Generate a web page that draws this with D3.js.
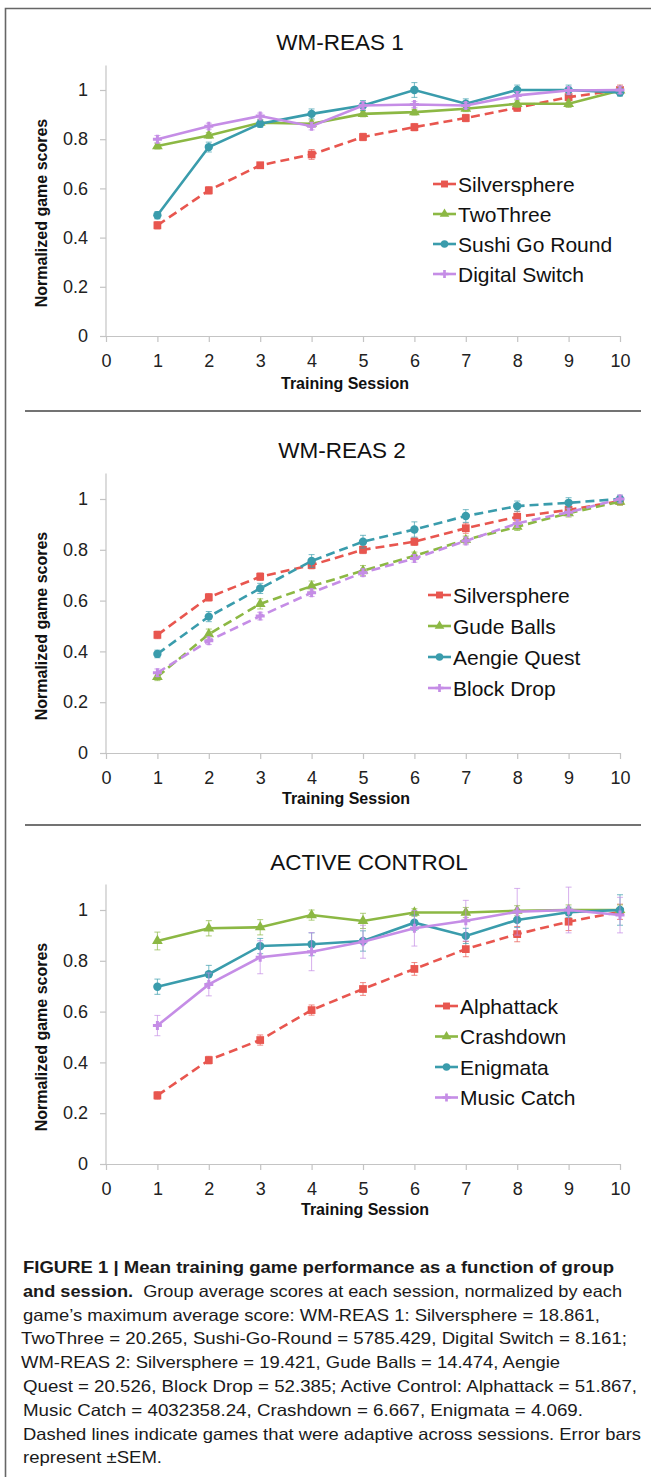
<!DOCTYPE html>
<html>
<head>
	<title></title>
	<script type="text/javascript" src="https://d3js.org/d3.v7.min.js"></script>
	<style>
		body { margin: 0; background: #fff; }
		text { font-family: "Liberation Sans", Arial, sans-serif; }
	</style>
</head>
<body>

<div id='fig'></div>

<script type="text/javascript">

var sessions = [1, 2, 3, 4, 5, 6, 7, 8, 9, 10];
var xTicks = [0, 1, 2, 3, 4, 5, 6, 7, 8, 9, 10];
var yTicks = [0, 0.2, 0.4, 0.6, 0.8, 1];

// WM-REAS 1
var wm1Names = ['Silversphere', 'TwoThree', 'Sushi Go Round', 'Digital Switch'];
var wm1Silversphere = [0.45, 0.592, 0.694, 0.738, 0.809, 0.849, 0.886, 0.928, 0.971, 1.0];
var wm1TwoThree     = [0.772, 0.815, 0.867, 0.863, 0.903, 0.91, 0.924, 0.944, 0.944, 0.998];
var wm1Sushi        = [0.491, 0.768, 0.863, 0.903, 0.937, 1.0, 0.944, 1.0, 1.0, 0.99];
var wm1Digital      = [0.80, 0.853, 0.894, 0.853, 0.937, 0.941, 0.937, 0.978, 0.998, 1.0];
var wm1SilverSem  = [0.015, 0.015, 0.012, 0.02, 0.015, 0.015, 0.015, 0.015, 0.02, 0.02];
var wm1TwoSem     = [0.012, 0.012, 0.012, 0.015, 0.012, 0.012, 0.012, 0.015, 0.015, 0.01];
var wm1SushiSem   = [0.015, 0.02, 0.015, 0.02, 0.02, 0.03, 0.02, 0.02, 0.02, 0.015];
var wm1DigitalSem = [0.015, 0.012, 0.012, 0.015, 0.015, 0.012, 0.012, 0.015, 0.015, 0.015];

// WM-REAS 2
var wm2Names = ['Silversphere', 'Gude Balls', 'Aengie Quest', 'Block Drop'];
var wm2Silversphere = [0.465, 0.613, 0.694, 0.74, 0.80, 0.832, 0.885, 0.93, 0.957, 0.992];
var wm2Gude         = [0.30, 0.468, 0.587, 0.657, 0.718, 0.776, 0.839, 0.891, 0.944, 0.99];
var wm2Aengie       = [0.39, 0.537, 0.648, 0.756, 0.832, 0.88, 0.933, 0.972, 0.985, 1.0];
var wm2Block        = [0.316, 0.442, 0.539, 0.631, 0.71, 0.766, 0.835, 0.904, 0.948, 1.0];
var wm2SilverSem = [0.015, 0.015, 0.015, 0.015, 0.015, 0.015, 0.02, 0.02, 0.015, 0.015];
var wm2GudeSem   = [0.015, 0.02, 0.02, 0.02, 0.02, 0.015, 0.015, 0.015, 0.015, 0.015];
var wm2AengieSem = [0.015, 0.02, 0.02, 0.025, 0.025, 0.03, 0.025, 0.02, 0.02, 0.015];
var wm2BlockSem  = [0.015, 0.015, 0.015, 0.015, 0.015, 0.015, 0.015, 0.015, 0.015, 0.015];

// ACTIVE CONTROL
var acNames = ['Alphattack', 'Crashdown', 'Enigmata', 'Music Catch'];
var acAlphattack = [0.27, 0.409, 0.488, 0.606, 0.689, 0.768, 0.846, 0.905, 0.954, 0.993];
var acCrashdown  = [0.878, 0.928, 0.932, 0.98, 0.957, 0.99, 0.99, 0.997, 1.0, 1.0];
var acEnigmata   = [0.698, 0.747, 0.858, 0.865, 0.878, 0.95, 0.898, 0.961, 0.991, 1.0];
var acMusic      = [0.545, 0.707, 0.814, 0.836, 0.875, 0.928, 0.958, 0.993, 1.0, 0.98];
var acAlphaSem  = [0.015, 0.015, 0.02, 0.02, 0.025, 0.025, 0.03, 0.03, 0.035, 0.03];
var acCrashSem  = [0.035, 0.03, 0.03, 0.02, 0.03, 0.015, 0.02, 0.02, 0.02, 0.02];
var acEnigSem   = [0.03, 0.035, 0.03, 0.045, 0.04, 0.03, 0.03, 0.03, 0.02, 0.06];
var acMusicSem  = [0.04, 0.045, 0.065, 0.075, 0.065, 0.07, 0.08, 0.092, 0.09, 0.07];

var captionLines = [
	[{t: 'FIGURE 1 | Mean training game performance as a function of group', b: true}],
	[{t: 'and session.', b: true}, {t: '  Group average scores at each session, normalized by each', b: false}],
	[{t: 'game\u2019s maximum average score: WM-REAS 1: Silversphere = 18.861,', b: false}],
	[{t: 'TwoThree = 20.265, Sushi-Go-Round = 5785.429, Digital Switch = 8.161;', b: false}],
	[{t: 'WM-REAS 2: Silversphere = 19.421, Gude Balls = 14.474, Aengie', b: false}],
	[{t: 'Quest = 20.526, Block Drop = 52.385; Active Control: Alphattack = 51.867,', b: false}],
	[{t: 'Music Catch = 4032358.24, Crashdown = 6.667, Enigmata = 4.069.', b: false}],
	[{t: 'Dashed lines indicate games that were adaptive across sessions. Error bars', b: false}],
	[{t: 'represent \u00b1SEM.', b: false}]
];

var RED = '#e8564f', GREEN = '#8cb844', TEAL = '#3a9cac', VIOLET = '#c58de6';

var W = 651, H = 1477;

var svg = d3.select('#fig').append('svg')
	.attr('width', W)
	.attr('height', H);

svg.append('rect').attr('width', W).attr('height', H).attr('fill', '#fff');

// frame
svg.append('path')
	.attr('d', 'M5.5,' + H + 'V8.5H' + W)
	.attr('fill', 'none')
	.attr('stroke', '#666')
	.attr('stroke-width', 1.6);

var x = d3.scaleLinear().domain([0, 10]).range([106, 620]);

function drawPanel(p) {
	var y = d3.scaleLinear().domain([0, 1]).range([p.y0, p.y1]);
	var g = svg.append('g');

	g.append('text')
		.attr('x', p.titleX).attr('y', p.titleY)
		.attr('text-anchor', 'middle')
		.style('font-size', '22.5px')
		.attr('fill', '#111')
		.text(p.title);

	var xAxis = d3.axisBottom(x).tickValues(xTicks).tickSize(6).tickSizeOuter(0).tickPadding(12)
		.tickFormat(d3.format('d'));
	var yAxis = d3.axisLeft(y).tickValues(yTicks).tickSize(6).tickSizeOuter(0).tickPadding(12)
		.tickFormat(d3.format(''));

	var ya = g.append('g').attr('transform', 'translate(' + x(0) + ',0)').call(yAxis);
	ya.select('.domain').attr('d', 'M0,' + y(0) + 'V' + y(1.1));
	var xa = g.append('g').attr('transform', 'translate(0,' + y(0) + ')').call(xAxis);

	[ya, xa].forEach(function(a) {
		a.select('.domain').attr('stroke', '#c4c4c4').attr('stroke-width', 1.2);
		a.selectAll('.tick line').attr('stroke', '#c4c4c4').attr('stroke-width', 1.2);
		a.selectAll('.tick text').style('font-size', '18px').attr('fill', '#222')
			.style('font-family', '"Liberation Sans", Arial, sans-serif');
	});

	g.append('text')
		.attr('transform', 'translate(47,' + y(0.5) + ') rotate(-90)')
		.attr('text-anchor', 'middle')
		.style('font-size', '16px').style('font-weight', 'bold')
		.attr('fill', '#111')
		.text('Normalized game scores');

	g.append('text')
		.attr('x', p.xlabX).attr('y', p.xlabY)
		.attr('text-anchor', 'middle')
		.style('font-size', '16px').style('font-weight', 'bold')
		.attr('fill', '#111')
		.text('Training Session');

	var line = d3.line()
		.x(function(d) { return x(d.s); })
		.y(function(d) { return y(d.v); });

	p.series.forEach(function(sr) {
		var pts = sessions.map(function(s, i) { return {s: s, v: sr.values[i], e: sr.sem[i]}; });
		var sg = g.append('g');

		sg.selectAll('.err').data(pts).enter().append('path')
			.attr('d', function(d) {
				var cx = x(d.s), a = y(d.v + d.e), b = y(d.v - d.e);
				return 'M' + cx + ',' + a + 'V' + b + 'M' + (cx - 3) + ',' + a + 'H' + (cx + 3) +
					'M' + (cx - 3) + ',' + b + 'H' + (cx + 3);
			})
			.attr('stroke', sr.color).attr('stroke-opacity', 0.7).attr('stroke-width', 1).attr('fill', 'none');

		sg.append('path').datum(pts)
			.attr('d', line)
			.attr('fill', 'none')
			.attr('stroke', sr.color)
			.attr('stroke-width', 2.6)
			.attr('stroke-dasharray', sr.dashed ? '9,5' : null);

		sg.selectAll('.mk').data(pts).enter().append('path')
			.attr('transform', function(d) { return 'translate(' + x(d.s) + ',' + y(d.v) + ')'; })
			.attr('d', d3.symbol().type(sr.symbol).size(sr.size))
			.attr('fill', sr.color);
	});

	// legend
	p.series.forEach(function(sr, i) {
		var ly = p.legY + i * p.legStep;
		g.append('line')
			.attr('x1', p.legX).attr('x2', p.legX + 23)
			.attr('y1', ly).attr('y2', ly)
			.attr('stroke', sr.color).attr('stroke-width', 2.6);
		g.append('path')
			.attr('transform', 'translate(' + (p.legX + 11.5) + ',' + ly + ')')
			.attr('d', d3.symbol().type(sr.symbol).size(sr.size * 0.8))
			.attr('fill', sr.color);
		g.append('text')
			.attr('x', p.legX + 25).attr('y', ly + 7.5)
			.style('font-size', '21px')
			.attr('fill', '#111')
			.text(p.names[i]);
	});
}

drawPanel({
	title: 'WM-REAS 1', titleX: 340, titleY: 50,
	y0: 336, y1: 90,
	xlabX: 345, xlabY: 389,
	legX: 433, legY: 184, legStep: 30,
	names: wm1Names,
	series: [
		{values: wm1Silversphere, sem: wm1SilverSem, color: RED, symbol: d3.symbolSquare, size: 60, dashed: true},
		{values: wm1TwoThree, sem: wm1TwoSem, color: GREEN, symbol: d3.symbolTriangle, size: 50, dashed: false},
		{values: wm1Sushi, sem: wm1SushiSem, color: TEAL, symbol: d3.symbolCircle, size: 55, dashed: false},
		{values: wm1Digital, sem: wm1DigitalSem, color: VIOLET, symbol: d3.symbolCross, size: 45, dashed: false}
	]
});

drawPanel({
	title: 'WM-REAS 2', titleX: 342, titleY: 458,
	y0: 753, y1: 499,
	xlabX: 346, xlabY: 804,
	legX: 428, legY: 595, legStep: 31,
	names: wm2Names,
	series: [
		{values: wm2Silversphere, sem: wm2SilverSem, color: RED, symbol: d3.symbolSquare, size: 60, dashed: true},
		{values: wm2Gude, sem: wm2GudeSem, color: GREEN, symbol: d3.symbolTriangle, size: 50, dashed: true},
		{values: wm2Aengie, sem: wm2AengieSem, color: TEAL, symbol: d3.symbolCircle, size: 55, dashed: true},
		{values: wm2Block, sem: wm2BlockSem, color: VIOLET, symbol: d3.symbolCross, size: 45, dashed: true}
	]
});

drawPanel({
	title: 'ACTIVE CONTROL', titleX: 369, titleY: 870,
	y0: 1164, y1: 910,
	xlabX: 365, xlabY: 1215,
	legX: 435, legY: 1006, legStep: 30.5,
	names: acNames,
	series: [
		{values: acAlphattack, sem: acAlphaSem, color: RED, symbol: d3.symbolSquare, size: 60, dashed: true},
		{values: acCrashdown, sem: acCrashSem, color: GREEN, symbol: d3.symbolTriangle, size: 50, dashed: false},
		{values: acEnigmata, sem: acEnigSem, color: TEAL, symbol: d3.symbolCircle, size: 55, dashed: false},
		{values: acMusic, sem: acMusicSem, color: VIOLET, symbol: d3.symbolCross, size: 45, dashed: false}
	]
});

// separators
[411, 825].forEach(function(sy) {
	svg.append('line')
		.attr('x1', 25).attr('x2', 641)
		.attr('y1', sy).attr('y2', sy)
		.attr('stroke', '#444').attr('stroke-width', 1.6);
});

// caption
var capX = [23, 23, 23, 21, 21, 23, 23, 23, 23];
var capEnd = [614, 622, 600, 627, 560, 637, 583, 641, 162];
var capY = 1273, capStep = 23.8;

captionLines.forEach(function(parts, i) {
	var t = svg.append('text')
		.attr('x', capX[i]).attr('y', capY + i * capStep)
		.attr('textLength', capEnd[i] - capX[i])
		.attr('lengthAdjust', 'spacingAndGlyphs')
		.style('font-size', '16.5px')
		.style('white-space', 'pre')
		.attr('fill', '#1a1a1a');
	parts.forEach(function(pt) {
		t.append('tspan')
			.style('font-weight', pt.b ? 'bold' : 'normal')
			.text(pt.t);
	});
});

</script>

</body>
</html>
